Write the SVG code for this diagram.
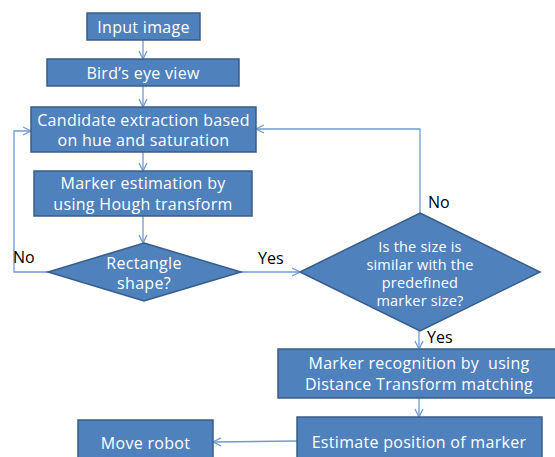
<svg xmlns="http://www.w3.org/2000/svg" width="555" height="457" viewBox="0 0 555 457">
<style>
.box{fill:#4f81bd;stroke:#385d8a;stroke-width:1.5}
.t{fill:#fff;font-family:"Open Sans","Noto Sans",sans-serif;font-size:16px;letter-spacing:0.3px;text-anchor:middle;dominant-baseline:central;white-space:pre}
.ts{font-size:14.5px;letter-spacing:0.2px}
.lbl{fill:#000;font-family:"Open Sans","Noto Sans",sans-serif;font-size:16px;dominant-baseline:central}
.c{fill:none;stroke:#6f9bd1;stroke-width:1.3;marker-end:url(#a)}
</style>
<defs>
<marker id="a" markerWidth="10" markerHeight="10" refX="9" refY="5" orient="auto" markerUnits="userSpaceOnUse">
<path d="M1,1 L9,5 L1,9" fill="none" stroke="#6f9bd1" stroke-width="1.3"/>
</marker>
</defs>
<rect width="555" height="457" fill="#fff"/>
<g id="connectors">
<line class="c" x1="143" y1="40" x2="143" y2="59"/>
<line class="c" x1="143" y1="86" x2="143" y2="107"/>
<line class="c" x1="143" y1="152" x2="143" y2="171"/>
<line class="c" x1="143" y1="216" x2="143" y2="243"/>
<polyline class="c" points="48,272 14,272 14,131 31,131"/>
<line class="c" x1="241" y1="272" x2="300" y2="272"/>
<polyline class="c" points="420,213 420,129 256,129"/>
<line class="c" x1="419" y1="331" x2="419" y2="349"/>
<line class="c" x1="419" y1="398" x2="419" y2="417"/>
<line class="c" x1="297" y1="441" x2="213" y2="442"/>
</g>
<g id="input"><rect class="box" x="87" y="13" width="113" height="27"/><text class="t" x="143.5" y="26.5">Input image</text></g>
<g id="birdseye"><rect class="box" x="47" y="59" width="192" height="27"/><text class="t" x="143" y="72.5">Bird’s eye view</text></g>
<g id="candidate"><rect class="box" x="31" y="107" width="225" height="45"/><text class="t" x="143.5" y="119.5">Candidate extraction based</text><text class="t" x="143.5" y="140">on hue and saturation</text></g>
<g id="markerest"><rect class="box" x="34" y="171" width="218" height="45"/><text class="t" x="143" y="183">Marker estimation by</text><text class="t" x="143" y="204">using Hough transform</text></g>
<g id="rect"><polygon class="box" points="144,243 241,272 144,301 48,272"/><text class="t" x="144" y="262.5">Rectangle</text><text class="t" x="144" y="283">shape?</text></g>
<g id="size"><polygon class="box" points="420,213 540,272 420,331 300,272"/><text class="t ts" x="420" y="246">Is the size is</text><text class="t ts" x="420" y="264">similar with the</text><text class="t ts" x="420" y="282">predefined</text><text class="t ts" x="420" y="300">marker size?</text></g>
<g id="recog"><rect class="box" x="278" y="349" width="280" height="49"/><text class="t" x="419" y="363" xml:space="preserve">Marker recognition by  using</text><text class="t" x="419" y="383.5">Distance Transform matching</text></g>
<g id="estimate"><rect class="box" x="297" y="417" width="245" height="50"/><text class="t" x="419" y="442">Estimate position of marker</text></g>
<g id="move"><rect class="box" x="78" y="420" width="135" height="50"/><text class="t" x="145.5" y="443">Move robot</text></g>
<g id="labels">
<text class="lbl" x="13" y="257">No</text>
<text class="lbl" x="258" y="258">Yes</text>
<text class="lbl" x="428" y="202">No</text>
<text class="lbl" x="427" y="337">Yes</text>
</g>
</svg>
